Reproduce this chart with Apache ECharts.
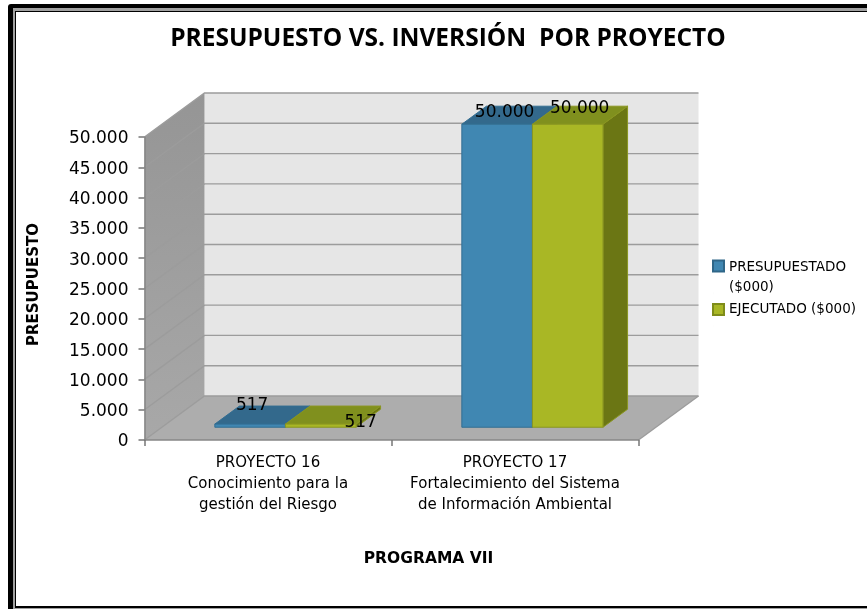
<!DOCTYPE html>
<html><head><meta charset="utf-8">
<style>html,body{margin:0;padding:0;background:#fff;overflow:hidden}#c{width:867px;height:609px}</style>
<script src="https://cdn.jsdelivr.net/npm/echarts@6/dist/echarts.min.js"></script>
</head><body><div id="c"></div>
<script>
const categories = ["PROYECTO 16\nConocimiento para la\ngestión del Riesgo", "PROYECTO 17\nFortalecimiento del Sistema\nde Información Ambiental"];
const presupuestado = [517, 50000];
const ejecutado = [517, 50000];
const yTicks = [0, 5000, 10000, 15000, 20000, 25000, 30000, 35000, 40000, 45000, 50000];
const seriesNames = ["PRESUPUESTADO\n($000)", "EJECUTADO ($000)"];

const DEPTH = [60, -44];
const BAR_D0 = 0.29, BAR_D1 = 0.70;
const labelNudge = [[[2, -19], [40, -2]], [[7.5, -11.5], [12, -16]]];
const UI = "'DejaVu Sans', sans-serif";
const ICON_TOP = 'path://M0 0H10V10H0Z M0 30L0.01 30';
const ICON_MID = 'path://M0 0L0.01 0 M0 10H10V20H0Z M0 30L0.01 30';
const fmt = v => String(v).replace(/\B(?=(\d{3})+$)/g, '.');
const chart = echarts.init(document.getElementById('c'));
const pr = (p, d) => [p[0] + DEPTH[0] * d, p[1] + DEPTH[1] * d];
const poly = (pts, style) => ({ type: 'polygon', shape: { points: pts }, style });

function renderWalls(params) {
  const c = params.coordSys, l = c.x, r = c.x + c.width, t = c.y, b = c.y + c.height;
  const grad = new echarts.graphic.LinearGradient(0, 0, 0, 1, [{ offset: 0, color: '#959595' }, { offset: 1, color: '#A8A8A8' }]);
  return { type: 'group', children: [
    poly([pr([l, t], 1), pr([r, t], 1), pr([r, b], 1), pr([l, b], 1)], { fill: '#E6E6E6' }),
    poly([[l, t], pr([l, t], 1), pr([l, b], 1), [l, b]], { fill: grad }),
    poly([[l, b], pr([l, b], 1), pr([r, b], 1), [r, b]], { fill: '#ADADAD' })
  ]};
}
function renderGrid(params, api) {
  const c = params.coordSys, y = api.coord([0, api.value(0)])[1], l = c.x, r = c.x + c.width;
  const st = { stroke: '#9C9C9C', lineWidth: 1.4, fill: null };
  const ch = [
    { type: 'polyline', shape: { points: [[l, y], pr([l, y], 1), pr([r, y], 1)] }, style: st }
  ];
  if (api.value(0) === 0) ch.push({ type: 'line', shape: { x1: r, y1: y, x2: pr([r, y], 1)[0], y2: pr([r, y], 1)[1] }, style: st });
  return { type: 'group', children: ch };
}
function barRenderer(si, front, top, side, edge) {
  return function (params, api) {
    const i = api.value(0), v = api.value(1);
    const base = api.coord([i, 0]), head = api.coord([i, v]);
    const w = api.size([1, 0])[0] / 3.5;
    const x0 = base[0] - w + si * w, x1 = x0 + w;
    const f = (x, y, d) => pr([x, y], d);
    const bl = f(x0, base[1], BAR_D0), br = f(x1, base[1], BAR_D0), tl = f(x0, head[1], BAR_D0), tr = f(x1, head[1], BAR_D0);
    const tl2 = f(x0, head[1], BAR_D1), tr2 = f(x1, head[1], BAR_D1), br2 = f(x1, base[1], BAR_D1);
    const edgeSt = { stroke: edge, lineWidth: 1, lineJoin: 'round' };
    return { type: 'group', children: [
      poly([tr, tr2, br2, br], Object.assign({ fill: side }, edgeSt)),
      poly([tl, tl2, tr2, tr], Object.assign({ fill: top }, edgeSt)),
      poly([tl, tr, br, bl], Object.assign({ fill: front }, edgeSt))
    ]};
  };
}
function labelRenderer(si) {
  return function (params, api) {
    const i = api.value(0), v = api.value(1);
    const base = api.coord([i, 0]), head = api.coord([i, v]);
    const w = api.size([1, 0])[0] / 3.5;
    const p = pr([base[0] - w / 2 + si * w, head[1]], BAR_D0);
    const n = labelNudge[i][si];
    return { type: 'text', style: { x: p[0] + n[0], y: p[1] + n[1], text: fmt(v), fill: '#000',
      font: "17px 'DejaVu Sans', sans-serif", align: 'center', verticalAlign: 'middle' } };
  };
}
const option = {
  animation: false,
  backgroundColor: '#fff',
  title: { text: 'PRESUPUESTO VS. INVERSIÓN  POR PROYECTO', left: 443, top: 22, textAlign: 'center',
    textStyle: { fontFamily: "'Open Sans', sans-serif", fontWeight: 'bold', fontSize: 24.5, color: '#000' } },
  grid: { left: 144.5, top: 137, width: 494, height: 303, containLabel: false },
  legend: { orient: 'vertical', left: 707, top: 252, itemWidth: 11, itemHeight: 33, itemGap: -5,
    data: [{ name: seriesNames[0], icon: ICON_TOP }, { name: seriesNames[1], icon: ICON_MID }],
    textStyle: { fontFamily: UI, fontSize: 13.5, color: '#000', lineHeight: 20 } },
  xAxis: { type: 'category', z: 5, data: categories, name: 'PROGRAMA VII', nameLocation: 'middle', nameGap: 111,
    nameTextStyle: { fontFamily: UI, fontWeight: 'bold', fontSize: 15.5, color: '#000', padding: [0, 0, 0, 74] },
    axisLine: { lineStyle: { color: '#868686', width: 1.5 } },
    axisTick: { show: true, alignWithLabel: false, interval: 0, length: 6, lineStyle: { color: '#777777', width: 1.5 } },
    axisLabel: { fontFamily: UI, fontSize: 15, color: '#000', lineHeight: 21, margin: 13, interval: 0 } },
  yAxis: { type: 'value', z: 5, min: 0, max: 50000, interval: 5000, name: 'PRESUPUESTO', nameLocation: 'middle', nameGap: 103, nameRotate: 90,
    nameTextStyle: { fontFamily: UI, fontWeight: 'bold', fontSize: 15, color: '#000', padding: [0, 0, 0, 8] },
    axisLine: { show: true, lineStyle: { color: '#868686', width: 1.5 } },
    axisTick: { show: true, length: 6, lineStyle: { color: '#777777', width: 1.5 } },
    splitLine: { show: false },
    axisLabel: { fontFamily: UI, fontSize: 17, color: '#000', margin: 16, verticalAlign: 'top', lineHeight: 4, formatter: fmt } },
  graphic: [
    { type: 'rect', silent: true, z: -5, shape: { x: 8, y: 4, width: 900, height: 700, r: 3 }, style: { fill: '#000' } },
    { type: 'rect', silent: true, z: -5, shape: { x: 13, y: 8, width: 890, height: 690 }, style: { fill: '#A0A0A0' } },
    { type: 'rect', silent: true, z: -5, shape: { x: 15, y: 11, width: 880, height: 597 }, style: { fill: '#000' } },
    { type: 'rect', silent: true, z: -5, shape: { x: 16, y: 12, width: 870, height: 594 }, style: { fill: '#fff' } }
  ],
  series: [
    { type: 'custom', name: 'walls', coordinateSystem: 'cartesian2d', silent: true, z: 1, clip: false, data: [[0, 50000]], renderItem: renderWalls },
    { type: 'custom', name: 'grid', coordinateSystem: 'cartesian2d', silent: true, z: 1, clip: false, data: yTicks.map(v => [v]), encode: { y: 0 }, renderItem: renderGrid },
    { type: 'custom', name: seriesNames[0], coordinateSystem: 'cartesian2d', z: 2, clip: false, itemStyle: { color: '#4087B2', borderColor: '#2F6688', borderWidth: 1 },
      encode: { x: 0, y: 1 }, data: presupuestado.map((v, i) => [i, v]),
      renderItem: barRenderer(0, '#4087B2', '#33698C', '#2C5B7A', '#336E92') },
    { type: 'custom', name: seriesNames[1], coordinateSystem: 'cartesian2d', z: 3, clip: false, itemStyle: { color: '#A9B725', borderColor: '#7F8C1A', borderWidth: 1 },
      encode: { x: 0, y: 1 }, data: ejecutado.map((v, i) => [i, v]),
      renderItem: barRenderer(1, '#A9B725', '#80901E', '#6B7614', '#8A9620') },
    { type: 'custom', name: 'lab0', coordinateSystem: 'cartesian2d', silent: true, z: 6, clip: false, encode: { x: 0, y: 1 }, data: presupuestado.map((v, i) => [i, v]), renderItem: labelRenderer(0) },
    { type: 'custom', name: 'lab1', coordinateSystem: 'cartesian2d', silent: true, z: 6, clip: false, encode: { x: 0, y: 1 }, data: ejecutado.map((v, i) => [i, v]), renderItem: labelRenderer(1) }
  ]
};
chart.setOption(option);
</script></body></html>
